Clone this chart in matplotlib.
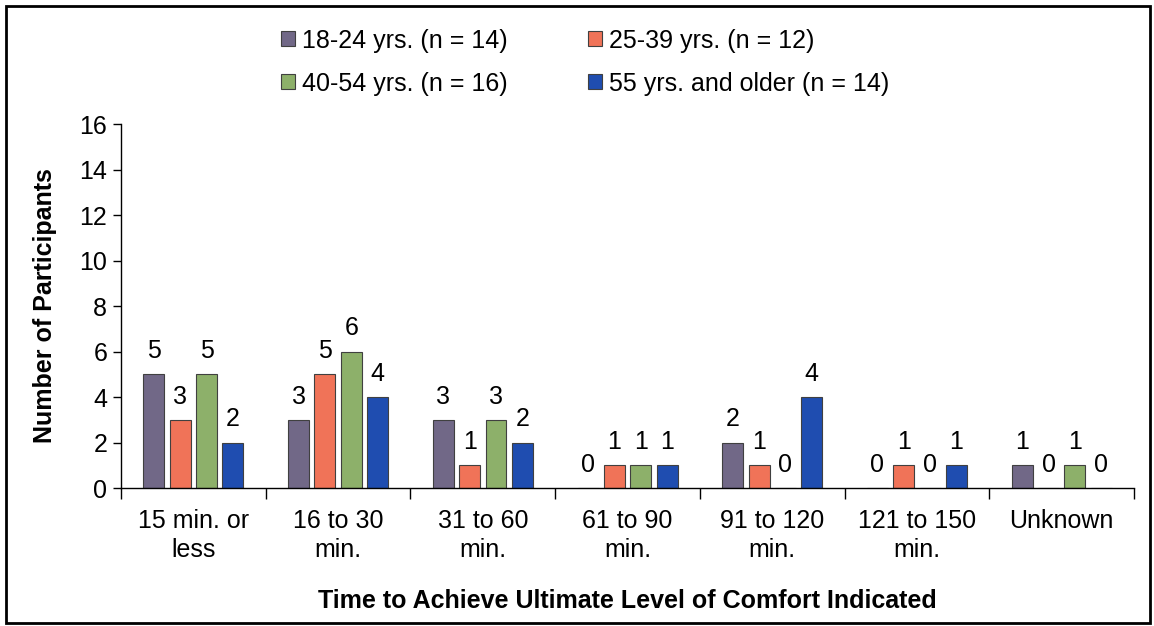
import matplotlib
matplotlib.use('Agg')
from matplotlib import pyplot as plt
from matplotlib.patches import Rectangle
import numpy as np

# Categories and counts per age group
categories = ["15 min. or\nless", "16 to 30\nmin.", "31 to 60\nmin.", "61 to 90\nmin.",
              "91 to 120\nmin.", "121 to 150\nmin.", "Unknown"]
groups = ["18-24 yrs. (n = 14)", "25-39 yrs. (n = 12)",
          "40-54 yrs. (n = 16)", "55 yrs. and older (n = 14)"]
age_18_24 = [5, 3, 3, 0, 2, 0, 1]
age_25_39 = [3, 5, 1, 1, 1, 1, 0]
age_40_54 = [5, 6, 3, 1, 0, 0, 1]
age_55_up = [2, 4, 2, 1, 4, 1, 0]
colors = ["#716887", "#F07358", "#8DB06A", "#1F4DB0"]

plt.rcParams['font.family'] = ['Liberation Sans', 'DejaVu Sans']
FS = 18

fig = plt.figure(figsize=(11.54, 6.26), dpi=100)
ax = fig.add_axes([0.1049, 0.2204, 0.8778, 0.5815])

x = np.arange(len(categories))
pitch = 0.182
width = 0.145
series = [age_18_24, age_25_39, age_40_54, age_55_up]
bars = []
for i, (vals, col, lab) in enumerate(zip(series, colors, groups)):
    b = ax.bar(x + (i - 1.5) * pitch, vals, width, color=col, edgecolor="#404040",
               linewidth=0.8, label=lab)
    ax.bar_label(b, labels=[str(v) for v in vals], padding=8, fontsize=FS)
    bars.append(b)

# Axes styling
ax.set_xlim(-0.5, len(categories) - 0.5)
ax.set_ylim(0, 16)
ax.set_yticks(np.arange(0, 17, 2))
ax.tick_params(axis='y', labelsize=FS, length=6, width=1, pad=4)
ax.set_xticks(x)
ax.set_xticklabels(categories, fontsize=FS, linespacing=1.25)
ax.tick_params(axis='x', length=0, pad=15)
ax.set_xticks(np.arange(-0.5, len(categories), 1), minor=True)
ax.tick_params(axis='x', which='minor', length=8, width=1)
for side in ['top', 'right']:
    ax.spines[side].set_visible(False)
for side in ['left', 'bottom']:
    ax.spines[side].set_linewidth(1)

ax.set_ylabel("Number of Participants", fontsize=FS, fontweight='bold', labelpad=16)
ax.set_xlabel("Time to Achieve Ultimate Level of Comfort Indicated", fontsize=FS,
              fontweight='bold', labelpad=20)

# Legend in two columns, row-wise order
order = [0, 2, 1, 3]
fig.legend([bars[i] for i in order], [groups[i] for i in order], ncol=2,
           loc='upper center', bbox_to_anchor=(0.507, 0.99), frameon=False,
           fontsize=FS, handlelength=0.55, handleheight=0.55, handletextpad=0.3,
           labelspacing=0.75, columnspacing=3.2)

# Outer frame
fig.patches.append(Rectangle((6 / 1154, 3 / 626), 1144 / 1154, 617 / 626,
                             transform=fig.transFigure, fill=False,
                             edgecolor='black', linewidth=2))

fig.savefig("out.png", dpi=100)
